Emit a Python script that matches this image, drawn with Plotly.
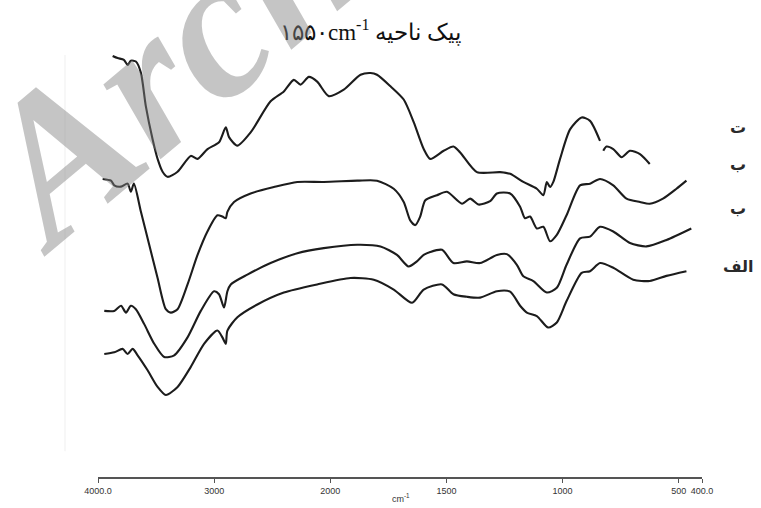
import numpy as np
import plotly.graph_objects as go

# FTIR spectra, wavenumber (cm-1) and transmittance (a.u., stacked)
wn_t = [3874, 3831, 3777, 3745, 3717, 3674, 3631, 3588, 3530, 3487, 3444, 3401, 3315, 3201, 3143, 3057,
        2958, 2900, 2872, 2800, 2686, 2514, 2400, 2314, 2256, 2185, 2113, 2013, 1942, 1870, 1827, 1799,
        1741, 1684, 1641, 1598, 1570, 1512, 1470, 1441, 1369, 1269, 1226, 1169, 1111, 1083, 1068, 1054,
        1040, 1011, 968, 918, 882, 839, 832, 825, 811, 782, 746, 710, 667, 625]
tr_t = [98.6, 98.1, 97.7, 96.5, 97.5, 97.3, 94.7, 86.8, 79.1, 74.5, 71.5, 70.3, 71.5, 75.2, 74.5, 76.8,
        78.4, 81.9, 79.6, 77.6, 80.7, 88.0, 90.3, 93.0, 91.9, 93.7, 92.6, 89.2, 90.7, 94.2, 94.6, 94.2,
        91.5, 88.4, 83.1, 76.8, 74.5, 76.4, 77.4, 76.0, 71.4, 71.4, 71.0, 69.1, 67.5, 66.0, 69.1, 67.9,
        69.1, 74.5, 81.4, 84.2, 83.4, 78.7, None, 76.4, 77.4, 76.8, 74.9, 76.4, 75.6, 73.3]

wn_b2 = [3960, 3888, 3860, 3802, 3745, 3717, 3691, 3631, 3559, 3487, 3416, 3373, 3315, 3229, 3143, 3058,
         2972, 2929, 2900, 2886, 2829, 2686, 2486, 2284, 2056, 1884, 1799, 1727, 1684, 1656, 1634, 1613,
         1591, 1541, 1498, 1433, 1398, 1362, 1312, 1283, 1226, 1183, 1162, 1140, 1111, 1083, 1054, 1025,
         983, 925, 882, 839, 782, 725, 667, 625, 568, 510, 467]
tr_b2 = [69.8, 69.4, 68.3, 68.0, 68.7, 66.8, 68.7, 62.2, 54.4, 46.6, 39.3, 38.5, 39.3, 45.1, 52.0, 57.5,
         61.3, 61.0, 60.6, 62.1, 64.4, 66.4, 67.9, 69.1, 69.1, 69.4, 69.4, 67.5, 64.4, 60.1, 59.0, 61.0,
         64.8, 66.0, 66.8, 64.0, 65.2, 63.8, 64.6, 66.4, 66.4, 63.3, 60.6, 61.0, 58.2, 58.6, 55.2, 56.7,
         61.3, 68.3, 68.7, 69.8, 68.3, 65.2, 64.4, 64.0, 65.2, 67.5, 69.4]

wn_b1 = [3946, 3860, 3802, 3759, 3717, 3674, 3602, 3516, 3430, 3344, 3229, 3115, 3001, 2958, 2915, 2886,
         2857, 2714, 2514, 2284, 2056, 1884, 1784, 1713, 1663, 1627, 1598, 1570, 1519, 1470, 1412, 1355,
         1283, 1240, 1197, 1169, 1126, 1068, 1025, 983, 925, 882, 839, 782, 710, 639, 553, 446]
tr_b1 = [38.9, 38.9, 40.1, 38.5, 40.1, 39.3, 35.8, 31.2, 28.1, 28.5, 32.7, 38.9, 43.5, 42.8, 39.7, 43.5,
         45.1, 47.4, 50.1, 52.4, 53.6, 54.4, 54.0, 52.0, 49.3, 50.5, 52.0, 52.7, 53.2, 50.1, 50.5, 50.1,
         52.0, 52.2, 49.7, 47.0, 45.9, 43.2, 44.3, 49.7, 55.9, 56.3, 58.6, 57.5, 54.8, 54.0, 55.5, 58.2]

wn_alef = [3946, 3860, 3788, 3745, 3702, 3659, 3573, 3487, 3416, 3315, 3201, 3087, 2972, 2929, 2900, 2886,
           2800, 2628, 2400, 2113, 1913, 1813, 1727, 1648, 1598, 1519, 1470, 1412, 1355, 1283, 1226, 1183,
           1154, 1111, 1062, 1025, 983, 918, 882, 839, 782, 696, 625, 553, 467]
tr_alef = [28.8, 29.2, 30.0, 28.8, 30.0, 28.5, 25.0, 21.1, 19.2, 21.1, 25.8, 31.2, 34.3, 32.7, 31.2, 34.3,
           37.4, 40.4, 43.2, 45.1, 46.6, 46.2, 43.9, 40.8, 43.9, 45.1, 42.8, 42.2, 42.0, 43.5, 43.4, 40.1,
           38.5, 37.7, 35.0, 36.2, 41.2, 47.8, 48.2, 50.1, 49.0, 46.2, 45.9, 47.1, 48.2]

series = [(wn_t, tr_t), (wn_b2, tr_b2), (wn_b1, tr_b1), (wn_alef, tr_alef)]
curve_labels = ["ت", "ب", "ب", "الف"]
label_pos = [81.9, 73.1, 62.9, 49.4]

tick_wn = [4000, 3000, 2000, 1500, 1000, 500, 400]
tick_text = ["4000.0", "3000", "2000", "1500", "1000", "500", "400.0"]


def wn_axis(w):
    """Instrument-style abscissa: half scale above 2000 cm-1."""
    w = np.asarray(w, dtype=float)
    return np.where(w >= 2000, (4000 - w) / 2.0, 1000 + (2000 - w))


fig = go.Figure()
for wn, tr in series:
    fig.add_trace(go.Scatter(
        x=wn_axis(wn), y=tr, mode="lines",
        line=dict(color="#1c1c1c", width=2.1, shape="spline", smoothing=0.7),
        connectgaps=False, hoverinfo="skip", showlegend=False))

L, T, W, H = 98, 50, 604, 431


def px(xp):
    return (xp - L) / W


def py(yp):
    return (T + H - yp) / H


fig.update_layout(
    width=761, height=508,
    margin=dict(l=L, r=761 - L - W, t=T, b=508 - T - H),
    paper_bgcolor="white", plot_bgcolor="white",
    xaxis=dict(range=[0, 2600], tickvals=wn_axis(tick_wn), ticktext=tick_text,
               showgrid=False, zeroline=False, showline=True, linecolor="#555", linewidth=1.5,
               ticks="outside", ticklen=4, tickcolor="#555", tickwidth=1.2,
               tickfont=dict(family="Liberation Sans Narrow, Liberation Sans", size=9, color="#333")),
    yaxis=dict(range=[0, 100], visible=False),
)

# faint frame line on the left
fig.add_shape(type="line", xref="paper", yref="paper", x0=px(65), x1=px(65), y0=py(455), y1=py(55),
              line=dict(color="#efefef", width=1))

# title
fig.add_annotation(xref="paper", yref="paper", x=px(370), y=py(31), xanchor="center", yanchor="middle",
                   showarrow=False, text="۱۵۵۰cm<sup>-1</sup> پیک ناحیه",
                   font=dict(family="Liberation Serif, DejaVu Serif", size=23, color="#111"))

# axis unit
fig.add_annotation(xref="paper", yref="paper", x=px(401), y=py(502), xanchor="center", yanchor="middle",
                   showarrow=False, text="cm<sup>-1</sup>",
                   font=dict(family="Liberation Sans Narrow, Liberation Sans", size=9, color="#333"))

# curve labels on the right
for lab, yp in zip(curve_labels, label_pos):
    fig.add_annotation(xref="paper", yref="y", x=px(738), y=yp, xanchor="center", yanchor="middle",
                       showarrow=False, text=f"<b>{lab}</b>",
                       font=dict(family="DejaVu Sans", size=16, color="#2a2a2a"))

# watermark
fig.add_annotation(xref="paper", yref="paper", x=px(492), y=py(-212), xanchor="center", yanchor="middle",
                   showarrow=False, text="<b><i>Archive of SID</i></b>", textangle=-40,
                   font=dict(family="Liberation Serif", size=205, color="rgba(128,128,128,0.46)"))

fig.write_html("out.html")
